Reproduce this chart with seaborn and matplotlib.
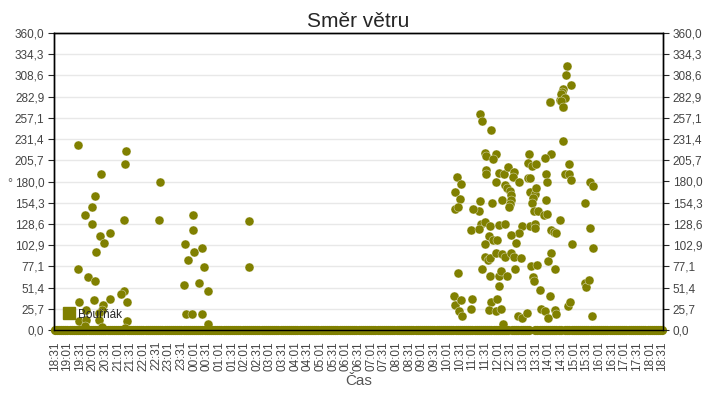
"""
Směr větru - scatter of wind direction readings over one day (18:31 -> 18:31)
"""

import numpy as np
import pandas as pd
import matplotlib
matplotlib.use('Agg')
import matplotlib.pyplot as plt
import matplotlib.dates as mdates
from matplotlib.lines import Line2D
import seaborn as sns

# Configuration
OUTPUT_FILE = 'out.png'
COLOR = '#808000'
DAY0 = pd.Timestamp('2024-01-01')

# Readings with a direction (time, degrees)
times = [
    "19:27", "21:20", "21:17", "20:20", "22:40", "20:06", "19:59", "19:43", "21:15", "22:37",
    "23:58", "19:59", "20:42", "20:18", "20:27", "20:09", "23:58", "23:39", "00:00", "00:21",
    "23:46", "00:24", "23:36", "00:12", "00:33", "23:43", "23:55", "00:21", "00:33", "19:26",
    "19:50", "20:06", "21:15", "21:08", "20:42", "19:28", "20:04", "20:25", "21:22", "19:45",
    "20:23", "20:16", "19:28", "19:45", "20:16", "21:22", "19:43", "20:23", "21:17", "02:12",
    "02:12",
    "11:18", "11:23", "11:46", "14:05", "14:29", "14:36", "14:36", "11:31", "11:33", "11:57",
    "11:49", "13:15", "14:08", "13:54", "13:13", "13:23", "13:32", "14:50", "14:41", "14:50",
    "14:54", "11:34", "11:34", "12:05", "12:16", "12:26", "12:40", "12:36", "12:52", "11:57",
    "13:12", "13:18", "13:55", "13:57", "10:24", "10:33", "10:20", "10:31", "10:19", "10:27",
    "11:18", "11:17", "11:03", "11:47", "12:18", "12:23", "12:30", "12:33", "12:12", "12:32",
    "12:29", "12:27", "13:18", "13:29", "13:31", "13:24", "13:22", "13:26", "13:37", "13:51",
    "13:57", "13:55", "14:29", "10:57", "11:21", "11:31", "11:43", "11:17", "12:05", "12:19",
    "12:59", "12:52", "12:32", "12:45", "13:18", "13:29", "13:30", "14:08", "14:14", "14:20",
    "11:41", "11:49", "12:00", "11:30", "14:58", "15:40", "15:28", "15:40", "15:46", "15:47",
    "11:30", "11:37", "11:43", "11:57", "12:10", "12:19", "12:32", "12:40", "12:57", "14:07",
    "13:59", "11:24", "10:26", "11:42", "12:03", "12:09", "12:24", "12:41", "13:19", "13:35",
    "14:17", "12:03", "13:25", "13:28", "13:40", "14:04", "15:27", "15:29", "15:38", "10:18",
    "10:19", "10:34", "10:28", "10:37", "11:01", "10:57", "11:44", "12:00", "11:40", "11:57",
    "12:08", "12:14", "12:49", "12:59", "13:11", "13:43", "13:53", "14:01", "14:17", "14:18",
    "14:48", "14:52", "15:45",
    "14:46", "14:43", "14:55", "14:36", "14:33", "14:31", "14:40", "14:32", "14:05", "14:36",
]
degrees = [
    224, 217, 201, 189, 179, 163, 149, 139, 133, 133,
    139, 128, 118, 114, 105, 94, 121, 104, 95, 99,
    85, 76, 55, 57, 47, 20, 20, 20, 7, 74,
    64, 59, 47, 44, 38, 34, 36, 30, 34, 24,
    24, 21, 11, 12, 12, 11, 5, 4, 3, 132,
    76,
    262, 253, 243, 276, 279, 270, 229, 214, 211, 213,
    207, 213, 213, 208, 203, 199, 201, 201, 189, 189,
    182, 194, 189, 190, 189, 198, 192, 185, 180, 179,
    184, 184, 189, 179, 185, 177, 167, 159, 147, 149,
    156, 144, 147, 154, 176, 172, 169, 164, 157, 157,
    153, 149, 167, 165, 172, 160, 154, 144, 144, 139,
    141, 158, 133, 121, 128, 131, 126, 123, 127, 129,
    126, 117, 115, 106, 126, 128, 124, 121, 119, 118,
    114, 109, 109, 104, 104, 124, 154, 179, 175, 99,
    89, 85, 87, 93, 92, 88, 93, 88, 87, 93,
    84, 74, 69, 65, 65, 72, 65, 74, 78, 79,
    74, 53, 64, 59, 48, 41, 57, 52, 61, 41,
    30, 36, 23, 17, 38, 26, 34, 38, 24, 23,
    25, 7, 17, 15, 21, 26, 23, 14, 24, 20,
    29, 34, 17,
    320, 309, 297, 292, 289, 286, 281, 278, 276, 270,
]

# Spans where the station reported 0 (calm), sampled every 5 minutes
calm_spans = [("18:31", "12:26"), ("12:35", "13:17"), ("13:30", "14:32"), ("14:41", "18:31")]
calm_step = '5min'

# Axis ranges / labels
y_ticks = np.linspace(0, 360, 15)
x_start, x_end = "18:31", "18:31"


def to_ts(hhmm, end=False):
    """Map HH:MM to a timestamp inside the 18:31 -> 18:31 window"""
    h, m = map(int, hhmm.split(':'))
    ts = DAY0 + pd.Timedelta(hours=h, minutes=m)
    if h < 18 or (h == 18 and m < 31) or end:
        ts += pd.Timedelta(days=1)
    return ts


def calm_frame():
    calm = []
    for i, (a, b) in enumerate(calm_spans):
        last = (i == len(calm_spans) - 1)
        calm.extend(pd.date_range(to_ts(a), to_ts(b, end=last), freq=calm_step))
    return pd.DataFrame({'time': calm, 'deg': [0] * len(calm)})


def fmt(v):
    return f'{v:.1f}'.replace('.', ',')


def main():
    sns.set_style('white')
    plt.rcParams['font.family'] = ['Liberation Sans', 'DejaVu Sans']

    wind = pd.DataFrame({'time': [to_ts(t) for t in times], 'deg': degrees})
    calm = calm_frame()

    fig = plt.figure(figsize=(7.2, 4.0), dpi=100)
    ax = fig.add_axes([0.075, 0.175, 0.846, 0.7425])

    sns.scatterplot(data=calm, x='time', y='deg', ax=ax, color=COLOR, s=44,
                    linewidth=0, legend=False, zorder=4, clip_on=False)
    sns.scatterplot(data=wind, x='time', y='deg', ax=ax, color=COLOR, s=42,
                    edgecolor='white', linewidth=0.25, legend=False, zorder=3)

    t0, t1 = to_ts(x_start), to_ts(x_end, end=True)
    pad = pd.Timedelta(minutes=2)
    ax.set_xlim(t0 - pad, t1 + pad)
    ax.set_ylim(0, 360)

    ax.xaxis.set_major_locator(mdates.MinuteLocator(byminute=[1, 31]))
    ax.xaxis.set_major_formatter(mdates.DateFormatter('%H:%M'))
    ax.tick_params(axis='x', rotation=90, labelsize=8.5, labelcolor='#444444',
                   length=3, direction='out', pad=5)

    ax.set_yticks(y_ticks)
    ax.set_yticklabels([fmt(v) for v in y_ticks])
    ax.tick_params(axis='y', labelsize=8.5, labelcolor='#444444', length=4,
                   direction='out', pad=3)
    ax.grid(axis='y', color='#e8e8e8', linewidth=1)
    ax.grid(axis='x', visible=False)

    # Right hand copy of the y axis
    ax2 = ax.twinx()
    ax2.set_ylim(0, 360)
    ax2.set_yticks(y_ticks)
    ax2.set_yticklabels([fmt(v) for v in y_ticks])
    ax2.tick_params(axis='y', labelsize=8.5, labelcolor='#444444', length=4,
                    direction='out', pad=3)
    ax2.grid(False)

    for a in (ax, ax2):
        for sp in a.spines.values():
            sp.set_color('black')
            sp.set_linewidth(1)

    ax.set_title('Směr větru', fontsize=15, pad=4)
    ax.set_xlabel('Čas', fontsize=11, color='#555555', labelpad=2)
    ax.set_ylabel('°', fontsize=9, color='#555555', rotation=0)
    ax.yaxis.set_label_coords(-0.072, 0.47)

    handle = Line2D([], [], marker='s', linestyle='none', markersize=9,
                    markerfacecolor=COLOR, markeredgecolor=COLOR)
    leg = ax2.legend([handle], ['Bouřňák'], loc='lower left', frameon=False,
                     fontsize=8.5, handletextpad=0.2, borderaxespad=0.4,
                     handlelength=1.0)
    leg.set_zorder(5)

    plt.savefig(OUTPUT_FILE, dpi=100)


if __name__ == "__main__":
    main()
